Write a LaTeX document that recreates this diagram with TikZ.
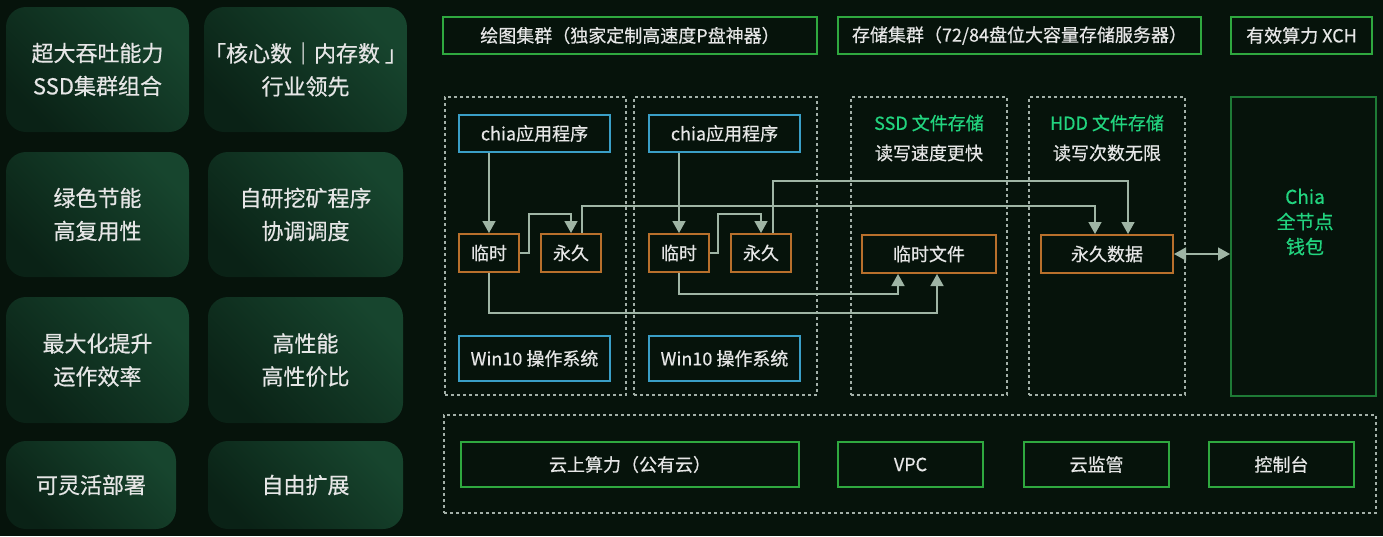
\documentclass[tikz,border=0pt]{standalone}
\usepackage{fontspec}
\setmainfont{Noto Sans CJK SC}[FakeBold=0.5]
\usetikzlibrary{arrows.meta,calc}
\definecolor{bg}{HTML}{06130B}
\definecolor{tileL}{HTML}{17452E}
\definecolor{tileD}{HTML}{0A2216}
\definecolor{txt}{HTML}{E6E6E6}
\definecolor{gbord}{HTML}{2FA83F}
\definecolor{gdark}{HTML}{1E7A36}
\definecolor{bbord}{HTML}{3A9FC7}
\definecolor{obord}{HTML}{B8702C}
\definecolor{arrc}{HTML}{9FB5A5}
\definecolor{dashc}{HTML}{A3B0A8}
\definecolor{gtxt}{HTML}{22D47F}
\begin{document}
\begin{tikzpicture}[x=1pt,y=-1pt,
  tile/.style={inner sep=0pt, rounded corners=20pt, top color=tileL, bottom color=tileD, shading angle=-45, text=txt, align=center, font=\fontsize{22}{33}\selectfont},
  gbox/.style={draw=gbord, line width=2pt, inner sep=0pt, text=txt, font=\fontsize{18}{22}\selectfont},
  bbox/.style={draw=bbord, line width=2pt, inner sep=0pt, text=txt, font=\fontsize{18}{22}\selectfont},
  obox/.style={draw=obord, line width=2pt, inner sep=0pt, text=txt, font=\fontsize{18}{22}\selectfont},
  dbox/.style={draw=dashc, line width=1.5pt, dash pattern=on 3pt off 3pt, inner sep=0pt},
  lbl/.style={text=txt, font=\fontsize{18}{22}\selectfont},
  glbl/.style={text=gtxt, font=\fontsize{18}{22}\selectfont},
  arr/.style={draw=arrc, line width=1.6pt, -{Triangle[width=13pt,length=12pt]}},
  darr/.style={draw=arrc, line width=1.6pt, {Triangle[width=13pt,length=12pt]}-{Triangle[width=13pt,length=12pt]}}
]
\fill[bg] (0,0) rectangle (1383,536);
\useasboundingbox (0,0) rectangle (1383,536);

% left tiles
\node[tile, minimum width=183pt, minimum height=125pt] (t1) at (97.5,69.5) {超大吞吐能力\\SSD集群组合};
\node[tile, minimum width=195pt, minimum height=125pt] (t2) at (305.5,69.5) {「核心数｜内存数 」\\行业领先};
\node[tile, minimum width=183pt, minimum height=125pt] (t3) at (97.5,214.5) {绿色节能\\高复用性};
\node[tile, minimum width=195pt, minimum height=125pt] (t4) at (305.5,214.5) {自研挖矿程序\\协调调度};
\node[tile, minimum width=183pt, minimum height=126pt] (t5) at (97.5,360) {最大化提升\\运作效率};
\node[tile, minimum width=195pt, minimum height=126pt] (t6) at (305.5,360) {高性能\\高性价比};
\node[tile, minimum width=170pt, minimum height=88pt] (t7) at (91,485) {可灵活部署};
\node[tile, minimum width=195pt, minimum height=88pt] (t8) at (305.5,485) {自由扩展};

% header boxes
\node[gbox, minimum width=374pt, minimum height=37pt] (h1) at (630,35.5) {绘图集群（独家定制高速度P盘神器）};
\node[gbox, minimum width=363pt, minimum height=37pt] (h2) at (1019.5,35.5) {存储集群（72/84盘位大容量存储服务器）};
\node[gbox, minimum width=141pt, minimum height=37pt] (h3) at (1301.5,35.5) {有效算力 XCH};

% dashed columns
\node[dbox, minimum width=181pt, minimum height=298pt] (c1) at (535.5,246) {};
\node[dbox, minimum width=183pt, minimum height=298pt] (c2) at (725.5,246) {};
\node[dbox, minimum width=156pt, minimum height=298pt] (c3) at (929,246) {};
\node[dbox, minimum width=156pt, minimum height=298pt] (c4) at (1107,246) {};
\node[draw=gdark, line width=2pt, inner sep=0pt, minimum width=145pt, minimum height=299pt] (chia) at (1303.5,246.5) {};
\node[glbl, align=center, font=\fontsize{19}{25}\selectfont] (chiatxt) at (1305,222) {Chia\\全节点\\钱包};

% column labels
\node[glbl] (ssdh) at (929,123) {SSD 文件存储};
\node[lbl] (ssds) at (929,153) {读写速度更快};
\node[glbl] (hddh) at (1107,123) {HDD 文件存储};
\node[lbl] (hdds) at (1107,153) {读写次数无限};

% inner boxes
\node[bbox, minimum width=151pt, minimum height=37pt] (app1) at (534.5,133.5) {chia应用程序};
\node[bbox, minimum width=151pt, minimum height=37pt] (app2) at (724.5,133.5) {chia应用程序};
\node[obox, minimum width=60pt, minimum height=38pt] (tmp1) at (489,253) {临时};
\node[obox, minimum width=60pt, minimum height=38pt] (perm1) at (571,253) {永久};
\node[obox, minimum width=60pt, minimum height=38pt] (tmp2) at (679,253) {临时};
\node[obox, minimum width=60pt, minimum height=38pt] (perm2) at (761,253) {永久};
\node[bbox, minimum width=151pt, minimum height=45pt] (win1) at (534.5,358.5) {Win10 操作系统};
\node[bbox, minimum width=151pt, minimum height=45pt] (win2) at (724.5,358.5) {Win10 操作系统};
\node[obox, minimum width=134pt, minimum height=38pt] (tmpf) at (929,254) {临时文件};
\node[obox, minimum width=132pt, minimum height=38pt] (pdata) at (1107,254) {永久数据};

% bottom row
\node[dbox, minimum width=932pt, minimum height=98pt] (cloudrow) at (910,464) {};
\node[gbox, minimum width=338pt, minimum height=45pt] (cloud) at (630,464.5) {云上算力（公有云）};
\node[gbox, minimum width=145pt, minimum height=45pt] (vpc) at (910.5,464.5) {VPC};
\node[gbox, minimum width=145pt, minimum height=45pt] (mon) at (1096.5,464.5) {云监管};
\node[gbox, minimum width=145pt, minimum height=45pt] (ctrl) at (1281.5,464.5) {控制台};

% connectors
\draw[arr] (app1.south -| tmp1.north) -- (tmp1.north);
\draw[arr] (app2.south -| tmp2.north) -- (tmp2.north);
\draw[arr] (tmp1.east) -- ++(9,0) |- ($(perm1.north)+(0,-19)$) -- (perm1.north);
\draw[arr] (tmp2.east) -- ++(8,0) |- ($(perm2.north)+(0,-19)$) -- (perm2.north);
\draw[arr] ($(perm1.north)+(11,0)$) |- ($(pdata.north)+(-12,-28)$) -- ($(pdata.north)+(-12,0)$);
\draw[arr] ($(perm2.north)+(12,0)$) |- ($(pdata.north)+(21,-53)$) -- ($(pdata.north)+(21,0)$);
\draw[arr] (tmp2.south) |- ($(tmpf.south)+(-31,20)$) -- ($(tmpf.south)+(-31,0)$);
\draw[arr] (tmp1.south) |- ($(tmpf.south)+(8,39)$) -- ($(tmpf.south)+(8,0)$);
\draw[darr] (pdata.east) -- (pdata.east -| chia.west);
\end{tikzpicture}
\end{document}
